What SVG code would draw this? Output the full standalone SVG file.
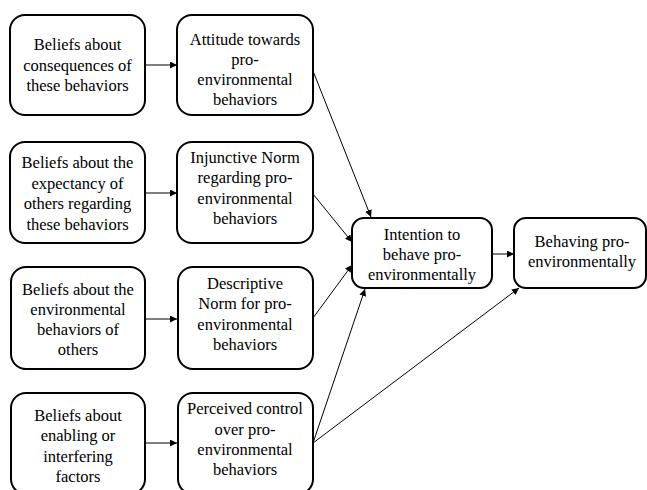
<svg xmlns="http://www.w3.org/2000/svg" width="647" height="490" viewBox="0 0 647 490">
<defs>
<marker id="ah" viewBox="0 0 10 10" refX="10" refY="5" markerWidth="7" markerHeight="7" markerUnits="userSpaceOnUse" orient="auto">
<path d="M0,0 L10,5 L0,10 Z" fill="#000"/>
</marker>
</defs>
<style>
.box{fill:#fff;stroke:#000;stroke-width:2}
.t{font-size:16.5px;fill:#000;text-anchor:middle}
.c{stroke:#000;stroke-width:1;fill:none;marker-end:url(#ah)}
</style>
<rect width="647" height="490" fill="#fff"/>
<g id="connectors">
<line class="c" x1="145" y1="65" x2="177" y2="65"/>
<line class="c" x1="145" y1="193" x2="177" y2="193"/>
<line class="c" x1="145" y1="319" x2="177" y2="319"/>
<line class="c" x1="145" y1="443" x2="177" y2="443"/>
<line class="c" x1="313" y1="71" x2="371" y2="217"/>
<line class="c" x1="313" y1="194" x2="352" y2="242"/>
<line class="c" x1="313" y1="318" x2="352" y2="265"/>
<line class="c" x1="313" y1="443" x2="365" y2="289"/>
<line class="c" x1="313" y1="443" x2="519" y2="288"/>
<line class="c" x1="492" y1="254" x2="514" y2="254"/>
</g>
<g font-family="Liberation Serif, Times New Roman, DejaVu Serif, serif">
<g id="b1"><rect class="box" x="10" y="15" width="135" height="100" rx="15"/>
<text class="t"><tspan x="77.5" y="50">Beliefs  about</tspan><tspan x="77.5" y="70.5">consequences of</tspan><tspan x="77.5" y="91">these behaviors</tspan></text></g>
<g id="b2"><rect class="box" x="10" y="142" width="135" height="101" rx="15"/>
<text class="t"><tspan x="77.5" y="168">Beliefs  about the</tspan><tspan x="77.5" y="188.5">expectancy of</tspan><tspan x="77.5" y="209">others regarding</tspan><tspan x="77.5" y="229.5">these behaviors</tspan></text></g>
<g id="b3"><rect class="box" x="11" y="267" width="134" height="102" rx="15"/>
<text class="t"><tspan x="78" y="295">Beliefs  about the</tspan><tspan x="78" y="315">environmental</tspan><tspan x="78" y="335">behaviors of</tspan><tspan x="78" y="355">others</tspan></text></g>
<g id="b4"><rect class="box" x="11" y="393" width="134" height="101" rx="15"/>
<text class="t"><tspan x="78" y="421">Beliefs  about</tspan><tspan x="78" y="441">enabling  or</tspan><tspan x="78" y="462">interfering</tspan><tspan x="78" y="482">factors</tspan></text></g>
<g id="m1"><rect class="box" x="177" y="15" width="136" height="100" rx="15"/>
<text class="t"><tspan x="245" y="45">Attitude  towards</tspan><tspan x="245" y="65">pro-</tspan><tspan x="245" y="85">environmental</tspan><tspan x="245" y="105">behaviors</tspan></text></g>
<g id="m2"><rect class="box" x="177" y="142" width="136" height="101" rx="15"/>
<text class="t"><tspan x="245" y="163">Injunctive  Norm</tspan><tspan x="245" y="183">regarding  pro-</tspan><tspan x="245" y="204">environmental</tspan><tspan x="245" y="224">behaviors</tspan></text></g>
<g id="m3"><rect class="box" x="178" y="267" width="135" height="102" rx="15"/>
<text class="t"><tspan x="245" y="289">Descriptive</tspan><tspan x="245" y="309">Norm for pro-</tspan><tspan x="245" y="330">environmental</tspan><tspan x="245" y="350">behaviors</tspan></text></g>
<g id="m4"><rect class="box" x="178" y="393" width="135" height="101" rx="15"/>
<text class="t"><tspan x="245" y="414">Perceived control</tspan><tspan x="245" y="435">over pro-</tspan><tspan x="245" y="455">environmental</tspan><tspan x="245" y="475">behaviors</tspan></text></g>
<g id="intention"><rect class="box" x="352" y="218" width="140" height="70" rx="12"/>
<text class="t"><tspan x="422" y="240">Intention  to</tspan><tspan x="422" y="260">behave  pro-</tspan><tspan x="422" y="280">environmentally</tspan></text></g>
<g id="behaving"><rect class="box" x="514" y="218" width="132" height="70" rx="12"/>
<text class="t"><tspan x="582" y="247">Behaving  pro-</tspan><tspan x="582" y="267">environmentally</tspan></text></g>
</g>
</svg>
